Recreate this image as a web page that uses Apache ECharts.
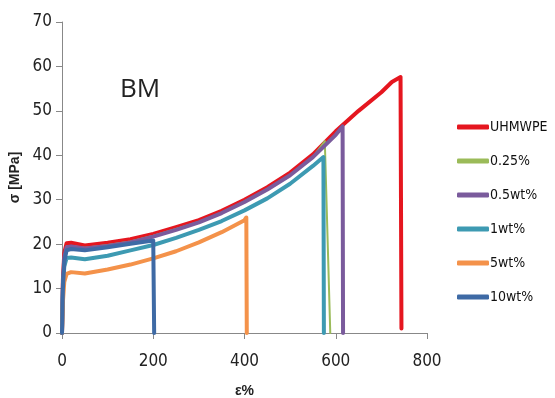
<!DOCTYPE html>
<html>
<head>
<meta charset="utf-8">
<script src="https://cdn.jsdelivr.net/npm/echarts@6/dist/echarts.min.js"></script>
<style>html,body{margin:0;padding:0;background:#fff}#c{width:555px;height:398px}</style>
</head>
<body>
<div id="c"></div>
<script>
var seriesNames = ['UHMWPE', '0.25%', '0.5wt%', '1wt%', '5wt%', '10wt%'];
var xTicks = [0, 200, 400, 600, 800];
var yTicks = [0, 10, 20, 30, 40, 50, 60, 70];

var epsUHMWPE = [0, 2, 5, 10, 20, 50, 100, 150, 200, 250, 300, 350, 400, 450, 500, 550, 600, 650, 700, 723, 742, 744];
var sigUHMWPE = [0, 12, 18, 20.2, 20.3, 19.7, 20.3, 21.1, 22.3, 23.8, 25.4, 27.5, 30.0, 32.8, 36.1, 40.2, 45.4, 50.0, 54.2, 56.5, 57.6, 1];

var eps025 = [0, 2, 5, 10, 20, 50, 100, 150, 200, 250, 300, 350, 400, 450, 500, 550, 576, 588];
var sig025 = [0, 11, 17.5, 19.5, 19.6, 19.2, 19.8, 20.6, 21.9, 23.4, 25.0, 27.1, 29.6, 32.4, 35.6, 39.6, 43.2, 0];

var eps05 = [0, 2, 5, 10, 20, 50, 100, 150, 200, 250, 300, 350, 400, 450, 500, 550, 600, 615, 616];
var sig05 = [0, 11, 17, 19.3, 19.5, 19.0, 19.6, 20.4, 21.7, 23.2, 24.9, 27.0, 29.5, 32.3, 35.5, 39.6, 44.6, 46.5, 0];

var eps1 = [0, 2, 5, 10, 20, 50, 100, 150, 200, 250, 300, 350, 400, 450, 500, 550, 573, 574];
var sig1 = [0, 10, 15, 16.9, 17.0, 16.6, 17.4, 18.6, 19.8, 21.4, 23.2, 25.2, 27.6, 30.3, 33.6, 37.6, 39.6, 0];

var eps5 = [0, 2, 5, 10, 20, 50, 100, 150, 200, 250, 300, 350, 400, 404, 405];
var sig5 = [0, 7, 11.5, 13.3, 13.7, 13.4, 14.3, 15.4, 16.8, 18.4, 20.4, 22.7, 25.4, 26.0, 0];

var eps10 = [0, 2, 5, 10, 20, 50, 100, 150, 200, 201, 202];
var sig10 = [0, 10, 16, 18.6, 18.9, 18.6, 19.3, 20.1, 20.8, 20.8, 0];

var colors = ['#e5161f', '#9bbb59', '#7a5b9c', '#3d9ab2', '#f4924a', '#3e6aa5'];

function pairs(xs, ys) { return xs.map(function (x, i) { return [x, ys[i]]; }); }
var allData = [
  pairs(epsUHMWPE, sigUHMWPE),
  pairs(eps025, sig025),
  pairs(eps05, sig05),
  pairs(eps1, sig1),
  pairs(eps5, sig5),
  pairs(eps10, sig10)
];

var font = "'Liberation Sans Narrow', 'DejaVu Sans Condensed', sans-serif";

var chart = echarts.init(document.getElementById('c'), null, { renderer: 'canvas' });
chart.setOption({
  backgroundColor: '#ffffff',
  animation: false,
  grid: { left: 62, right: 128, top: 22, bottom: 65, containLabel: false, outerBoundsMode: 'none' },
  legend: {
    orient: 'vertical',
    left: 452,
    top: 115,
    itemWidth: 32,
    itemHeight: 5,
    itemGap: 20,
    icon: 'roundRect',
    data: seriesNames,
    textStyle: { fontFamily: font, fontSize: 14, color: '#111', padding: [0, 0, 0, -4] }
  },
  graphic: [{
    type: 'text', left: 120, top: 77,
    style: { text: 'BM', fontFamily: "'Open Sans', sans-serif", fontSize: 26, fill: '#222' }
  }],
  xAxis: {
    type: 'value', min: xTicks[0], max: xTicks[xTicks.length - 1], interval: 200,
    name: 'ε%', nameLocation: 'middle', nameGap: 51,
    nameTextStyle: { fontFamily: 'Liberation Sans, sans-serif', fontWeight: 'bold', fontSize: 14, color: '#222' },
    axisLine: { lineStyle: { color: '#888', width: 1 } },
    axisTick: { show: true, length: 6, lineStyle: { color: '#888' } },
    axisLabel: { fontFamily: font, fontSize: 17, color: '#222', margin: 20 },
    splitLine: { show: false }
  },
  yAxis: {
    type: 'value', min: yTicks[0], max: yTicks[yTicks.length - 1], interval: 10,
    name: 'σ [MPa]', nameLocation: 'middle', nameGap: 37,
    nameTextStyle: { fontFamily: 'Liberation Sans, sans-serif', fontWeight: 'bold', fontSize: 14, color: '#222' },
    axisLine: { show: true, lineStyle: { color: '#888', width: 1 } },
    axisTick: { show: true, length: 6, lineStyle: { color: '#888' } },
    axisLabel: { fontFamily: font, fontSize: 17, color: '#222', margin: 10 },
    splitLine: { show: false }
  },
  series: seriesNames.map(function (n, i) {
    return {
      name: n, type: 'line', data: allData[i], showSymbol: false, symbol: 'none',
      color: colors[i],
      lineStyle: { width: i === 1 ? 2 : 4, color: colors[i], cap: 'round', join: 'round' },
      z: 2 + i
    };
  })
});
</script>
</body>
</html>
